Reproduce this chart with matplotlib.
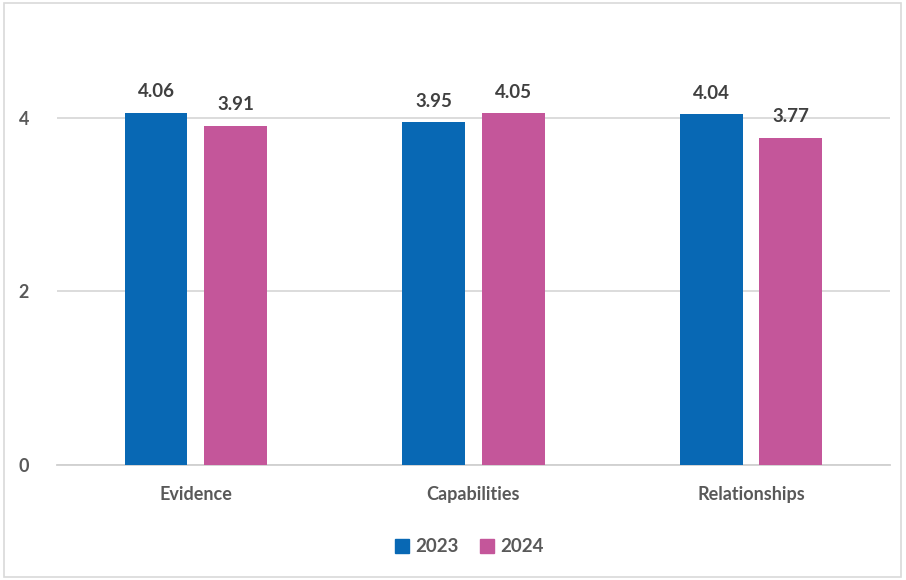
import matplotlib.pyplot as plt
import matplotlib.patches as mpatches
import numpy as np

categories = ["Evidence", "Capabilities", "Relationships"]
years = ["2023", "2024"]
values_2023 = [4.06, 3.95, 4.04]
values_2024 = [3.91, 4.05, 3.77]
y_ticks = [0, 2, 4]

blue = "#0868B4"
pink = "#C4569A"
text_dark = "#404040"
text_mid = "#595959"

plt.rcParams["font.family"] = ["Lato", "DejaVu Sans"]

fig = plt.figure(figsize=(9.06, 5.80), dpi=100)
ax = fig.add_axes([0.0629, 0.1983, 0.9194, 0.7483])

x = np.arange(len(categories))
width = 0.226
offset = 0.143

b1 = ax.bar(x - offset, values_2023, width, color=blue, zorder=3)
b2 = ax.bar(x + offset, values_2024, width, color=pink, zorder=3)

for bars, vals in ((b1, values_2023), (b2, values_2024)):
    for rect, v in zip(bars, vals):
        ax.annotate(f"{v:.2f}", (rect.get_x() + rect.get_width() / 2, v),
                    xytext=(0, 9), textcoords="offset points",
                    ha="center", va="bottom", fontsize=13.5,
                    fontweight="bold", color=text_dark)

ax.set_xlim(-0.5, 2.5)
ax.set_ylim(0, 5)
ax.set_yticks(y_ticks)
ax.set_yticklabels([str(t) for t in y_ticks], fontsize=13, fontweight="bold",
                   color=text_mid)
ax.set_xticks(x)
ax.set_xticklabels(categories, fontsize=13, fontweight="bold", color=text_mid)
ax.tick_params(axis="y", length=0, pad=20)
ax.tick_params(axis="x", length=0, pad=15)

ax.grid(axis="y", color="#D9D9D9", linewidth=1.3, zorder=0)
for side in ("top", "right", "left"):
    ax.spines[side].set_visible(False)
ax.spines["bottom"].set_color("#D0D0D0")
ax.spines["bottom"].set_linewidth(1.3)

handles = [mpatches.Patch(color=blue, label=years[0]),
           mpatches.Patch(color=pink, label=years[1])]
fig.legend(handles=handles, loc="center", bbox_to_anchor=(0.518, 0.057),
           ncol=2, frameon=False, handlelength=0.75, handleheight=0.75,
           handletextpad=0.35, columnspacing=1.1,
           prop={"size": 13.5, "weight": "bold"}, labelcolor=text_mid)

border = mpatches.Rectangle((0.004, 0.005), 0.99, 0.99, transform=fig.transFigure,
                            fill=False, edgecolor="#D9D9D9", linewidth=1.2)
fig.patches.append(border)

fig.savefig("out.png", dpi=100, facecolor="white")
